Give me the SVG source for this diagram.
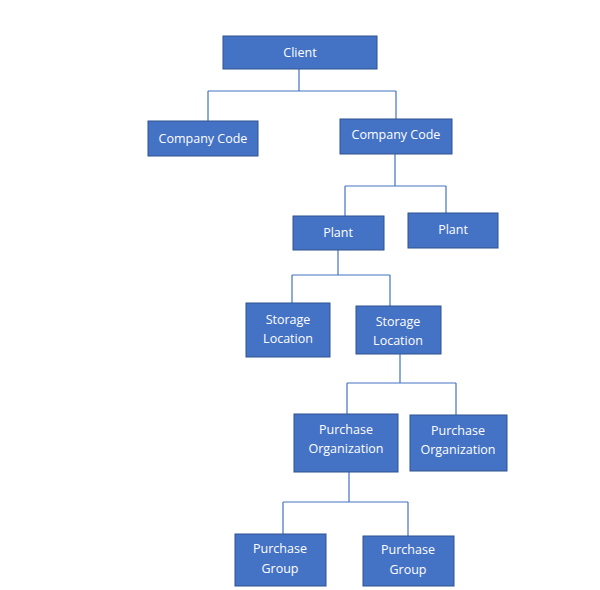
<svg xmlns="http://www.w3.org/2000/svg" width="600" height="590" viewBox="0 0 600 590">
<style>
.n rect{fill:#4472C4;stroke:#2F528F;stroke-width:1}
.n text{fill:#fff;font-family:"Open Sans","Liberation Sans",sans-serif;font-size:12.5px;text-anchor:middle}
.c path{fill:none;stroke:#4472C4;stroke-width:1.2}
</style>
<rect width="600" height="590" fill="#fff"/>
<g class="c">
<path d="M299 69V91M208 91H396M208 91V121M396 91V119"/>
<path d="M395 154V186M345 186H446M345 186V216M446 186V213"/>
<path d="M338 250V275M292 275H390M292 275V303M390 275V306"/>
<path d="M400 354V383M347 383H456M347 383V414M456 383V415"/>
<path d="M349 472V502M283 502H408M283 502V534M408 502V536"/>
</g>
<g class="n" id="client"><rect x="223" y="36" width="154" height="33"/><text x="300" y="57">Client</text></g>
<g class="n" id="cc1"><rect x="148" y="121" width="110" height="35"/><text x="203" y="143">Company Code</text></g>
<g class="n" id="cc2"><rect x="340" y="119" width="112" height="35"/><text x="396" y="139">Company Code</text></g>
<g class="n" id="plant1"><rect x="293" y="216" width="91" height="34"/><text x="338" y="237">Plant</text></g>
<g class="n" id="plant2"><rect x="408" y="213" width="90" height="35"/><text x="453" y="234">Plant</text></g>
<g class="n" id="sl1"><rect x="246" y="303" width="84" height="54"/><text x="288" y="324">Storage</text><text x="288" y="343">Location</text></g>
<g class="n" id="sl2"><rect x="356" y="306" width="85" height="48"/><text x="398" y="326">Storage</text><text x="398" y="345">Location</text></g>
<g class="n" id="po1"><rect x="294" y="414" width="104" height="58"/><text x="346" y="434">Purchase</text><text x="346" y="453">Organization</text></g>
<g class="n" id="po2"><rect x="410" y="415" width="97" height="56"/><text x="458" y="435">Purchase</text><text x="458" y="454">Organization</text></g>
<g class="n" id="pg1"><rect x="235" y="534" width="91" height="52"/><text x="280" y="553">Purchase</text><text x="280" y="573">Group</text></g>
<g class="n" id="pg2"><rect x="363" y="536" width="91" height="50"/><text x="408" y="554">Purchase</text><text x="408" y="574">Group</text></g>
</svg>
